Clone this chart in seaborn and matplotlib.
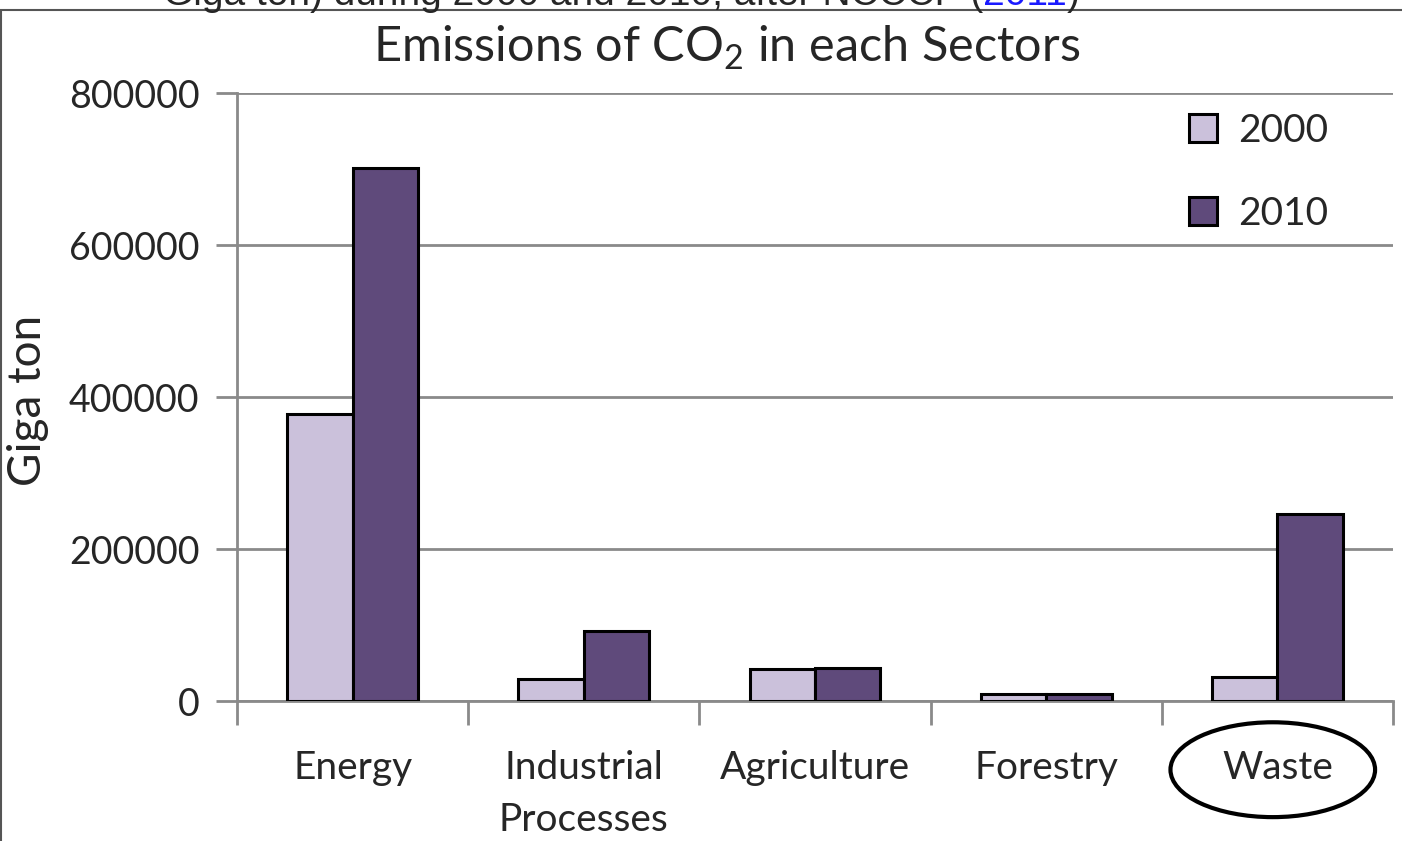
import matplotlib
matplotlib.use("Agg")
import matplotlib.pyplot as plt
import seaborn as sns
import pandas as pd
from matplotlib.patches import Ellipse, Rectangle
from matplotlib.ticker import FixedLocator

sectors = ["Energy", "Industrial\nProcesses", "Agriculture", "Forestry", "Waste"]
years = ["2000", "2010"]
values_2000 = [378000, 29000, 42000, 9000, 31500]
values_2010 = [701000, 92000, 43000, 9000, 246000]
yticks = [0, 200000, 400000, 600000, 800000]

df = pd.DataFrame({
    "Sector": sectors * 2,
    "Year": [years[0]] * len(sectors) + [years[1]] * len(sectors),
    "Value": values_2000 + values_2010,
})

sns.set_style("white")
plt.rcParams["font.family"] = ["Lato", "DejaVu Sans"]
plt.rcParams["mathtext.fontset"] = "custom"
plt.rcParams["mathtext.rm"] = "Lato"

fig = plt.figure(figsize=(14.02, 8.41), dpi=100)
ax = fig.add_axes([237 / 1402, 1 - 701 / 841, (1393 - 237) / 1402, (701 - 93) / 841])

palette = {"2000": "#CBC1DB", "2010": "#5F4A7B"}
sns.barplot(data=df, x="Sector", y="Value", hue="Year", palette=palette,
            width=0.565, edgecolor="black", linewidth=2.2, ax=ax, zorder=3,
            saturation=1)

ax.set_xlim(-0.5, 4.5)
ax.set_ylim(0, 800000)
ax.set_yticks(yticks)
ax.set_yticklabels([str(v) for v in yticks])
ax.yaxis.grid(True, color="#8a8a8a", linewidth=2)
ax.set_axisbelow(True)

for side in ["top", "right"]:
    ax.spines[side].set_visible(False)
for side in ["left", "bottom"]:
    ax.spines[side].set_color("#8a8a8a")
    ax.spines[side].set_linewidth(2)

ax.tick_params(axis="y", which="major", direction="out", length=15, width=2,
               color="#8a8a8a", labelsize=27, pad=12, left=True)
ax.tick_params(axis="x", which="major", length=0, labelsize=28, pad=35)
ax.xaxis.set_minor_locator(FixedLocator([-0.5, 0.5, 1.5, 2.5, 3.5, 4.5]))
ax.tick_params(axis="x", which="minor", direction="out", length=17, width=2,
               color="#8a8a8a", bottom=True)
for lbl in ax.get_xticklabels():
    lbl.set_linespacing(1.55)
    lbl.set_verticalalignment("top")

ax.set_xlabel("")
ax.set_ylabel("")
fig.text(28 / 1402, 1 - 400 / 841, "Giga ton", fontsize=33, rotation=90,
         ha="center", va="center")

fig.text(727 / 1402, 1 - 62 / 841, r"Emissions of CO$_2$ in each Sectors",
         fontsize=35, ha="center", va="baseline")

leg = ax.legend(loc="upper left", bbox_to_anchor=((1162 - 237) / 1156, 1.012), frameon=False,
                fontsize=28, handlelength=0.72, handleheight=0.72,
                labelspacing=1.2, handletextpad=0.55, borderaxespad=0.3)

# Highlight ellipse around "Waste"
ell = Ellipse((3.98, -0.113), width=0.885, height=0.156, transform=ax.get_xaxis_transform(),
              fill=False, edgecolor="black", linewidth=3, clip_on=False)
ax.add_patch(ell)

# Frame of the original picture and clipped caption above it
fig.patches.append(Rectangle((0.0008, -0.01), 1.2, 1 - 10 / 841 + 0.01,
                             transform=fig.transFigure, fill=False,
                             edgecolor="#555555", linewidth=1.5))
cap_font = dict(fontsize=28, family=["Liberation Sans", "DejaVu Sans"], va="baseline")
t1 = fig.text(163 / 1402, 1 - 5 / 841, "Giga ton) during 2000 and 2010, after NCCCP (",
              ha="left", **cap_font)
t2 = fig.text(0, 0, "2011", color="#1a1aff", ha="left",
              transform=fig.transFigure, **cap_font)
t3 = fig.text(0, 0, ")", ha="left", **cap_font)

fig.canvas.draw()
r = fig.canvas.get_renderer()
bb1 = t1.get_window_extent(r)
t2.set_position((bb1.x1 / fig.bbox.width, 1 - 5 / 841))
fig.canvas.draw()
bb2 = t2.get_window_extent(r)
t3.set_position((bb2.x1 / fig.bbox.width, 1 - 5 / 841))

fig.savefig("out.png", dpi=100)
